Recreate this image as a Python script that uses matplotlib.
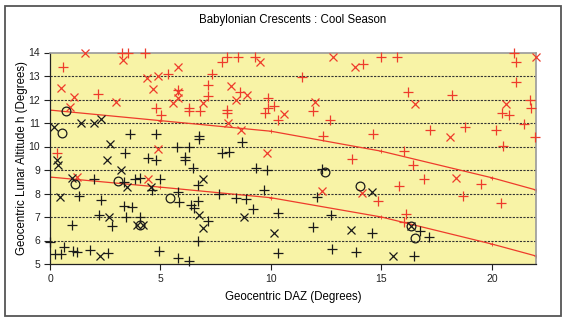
import matplotlib
matplotlib.use("Agg")
import matplotlib.pyplot as plt
from matplotlib.patches import Rectangle

plt.rcParams['font.family'] = ['Liberation Sans', 'DejaVu Sans']

# Visibility curves (DAZ vs limiting altitude)
curve_daz = [0, 5, 10, 15, 20, 22]
curve_upper = [11.55, 11.1, 10.65, 9.8, 8.67, 8.15]
curve_lower = [8.7, 8.27, 7.82, 7.0, 5.85, 5.34]

# Observations: DAZ (deg) and altitude h (deg)
black_plus_daz = [3.62, 4.8, 6.75, 6.75, 8.71, 5.74, 6.3, 3.4, 4.43, 4.79, 6.1, 6.1,
                  7.78, 8.11, 6.49, 9.32, 9.82, 2.0, 3.37, 3.85, 4.08, 4.6, 4.98, 5.81,
                  5.84, 6.69, 6.69, 6.39, 6.54, 7.17, 6.69, 7.63, 8.41, 8.88, 9.21, 9.67,
                  10.3, 10.32, 1.33, 2.31, 3.37, 3.73, 2.22, 2.79, 3.43, 4.08, 1.01, 0.0,
                  0.23, 0.5, 0.65, 1.06, 1.21, 1.81, 2.64, 4.95, 5.81, 6.27, 12.31, 12.08,
                  12.72, 11.89, 14.58, 16.76, 17.14, 12.76, 13.85, 16.46]
black_plus_h = [10.52, 10.52, 10.46, 10.32, 10.2, 10.0, 10.0, 9.71, 9.5, 9.43, 9.55, 9.42,
                9.71, 9.78, 9.07, 9.1, 9.0, 8.62, 8.48, 8.62, 8.65, 8.15, 8.62, 8.05,
                7.63, 8.36, 7.68, 7.51, 7.37, 6.83, 5.98, 7.97, 7.82, 7.77, 7.34, 8.15,
                7.18, 5.45, 7.91, 7.72, 7.47, 7.41, 7.09, 6.63, 7.01, 7.01, 6.66, 5.95,
                5.43, 5.43, 5.74, 5.57, 5.5, 5.6, 5.48, 5.55, 5.24, 5.11, 9.04, 7.86,
                7.09, 6.56, 6.33, 6.4, 6.16, 5.64, 5.5, 5.35]

black_x_daz = [0.2, 1.39, 2.0, 2.31, 2.72, 0.3, 0.38, 2.57, 3.22, 0.98, 3.47, 4.58,
               6.92, 6.75, 6.92, 8.8, 10.15, 0.45, 2.67, 3.93, 4.22, 2.27, 14.58, 13.62,
               16.34, 15.52]
black_x_h = [10.84, 10.99, 10.99, 11.17, 10.1, 9.43, 9.21, 9.43, 9.0, 8.65, 8.29, 8.29,
             8.62, 7.09, 6.52, 7.01, 6.33, 7.86, 6.99, 6.66, 6.66, 5.34, 8.07, 6.45,
             6.62, 5.35]

black_o_daz = [0.71, 0.53, 1.13, 3.1, 5.41, 4.08, 12.43, 14.02, 16.34, 16.54]
black_o_h = [11.51, 10.56, 8.39, 8.53, 7.82, 6.66, 8.93, 8.3, 6.62, 6.12]

red_plus_daz = [0.6, 3.25, 3.52, 4.28, 8.0, 7.8, 8.5, 9.26, 5.33, 7.33, 2.19, 7.13,
                7.13, 8.61, 9.89, 10.12, 9.89, 9.74, 10.3, 4.79, 5.03, 6.3, 6.3, 6.8,
                8.0, 8.0, 5.78, 0.3, 14.17, 14.98, 15.71, 20.99, 21.11, 11.43, 21.11, 16.2,
                18.2, 11.9, 12.69, 21.72, 21.78, 20.46, 20.8, 21.45, 21.95, 18.8, 17.19, 20.21,
                14.62, 12.38, 20.51, 16.01, 13.67, 16.43, 16.91, 19.51, 18.7, 20.42, 15.81, 14.83,
                16.13, 16.01]
red_plus_h = [13.4, 14.0, 14.0, 14.0, 13.8, 13.6, 13.8, 13.8, 13.1, 13.07, 12.22, 12.62,
              12.15, 12.33, 12.05, 11.74, 11.65, 11.44, 11.13, 11.65, 11.34, 11.65, 11.5, 11.5,
              11.55, 11.42, 12.42, 9.74, 13.5, 13.8, 13.8, 14.0, 13.6, 12.94, 12.73, 12.33,
              12.19, 11.51, 11.13, 11.98, 11.62, 11.41, 11.34, 10.95, 10.42, 10.82, 10.7, 10.7,
              10.52, 10.45, 10.03, 9.81, 9.46, 9.21, 8.62, 8.39, 7.91, 7.61, 8.32, 7.68,
              7.11, 6.8]

red_x_daz = [1.59, 3.32, 5.78, 9.52, 4.41, 4.91, 0.5, 1.1, 0.9, 2.98, 4.68, 5.78,
             5.78, 5.59, 8.19, 8.41, 8.91, 6.92, 10.57, 8.05, 8.65, 9.82, 4.91, 1.21,
             4.43, 12.81, 13.82, 22.0, 12.01, 16.51, 20.62, 18.12, 18.4, 12.31, 14.12]
red_x_h = [14.0, 13.68, 13.4, 13.6, 12.9, 13.0, 12.5, 12.1, 11.7, 11.9, 12.43, 12.3,
           12.05, 11.84, 12.59, 12.0, 12.2, 11.84, 11.4, 10.99, 10.7, 9.71, 9.88, 8.72,
           8.62, 13.8, 13.4, 13.8, 11.9, 11.8, 11.8, 10.42, 8.67, 8.11, 8.01]

RED = '#EE3B2B'
BLACK = '#1a1a1a'

fig = plt.figure(figsize=(5.67, 3.21), dpi=100)
ax = fig.add_axes([50 / 567, 1 - 264 / 321, 486 / 567, 211.5 / 321])
ax.set_facecolor('#F8F3A6')

# frame round the whole chart
fig.patches.append(Rectangle((5 / 567, 5 / 321), 556 / 567, 310 / 321,
                             transform=fig.transFigure, fill=False,
                             edgecolor='#555555', linewidth=1.3))

for yv in range(6, 14):
    ax.axhline(yv, color='#333333', linestyle=(0, (2, 1.2)), linewidth=0.8, zorder=1)

ax.plot(curve_daz, curve_upper, color=RED, linewidth=0.9, marker='+', markersize=3,
        markeredgewidth=0.6, zorder=2)
ax.plot(curve_daz, curve_lower, color=RED, linewidth=0.9, marker='+', markersize=3,
        markeredgewidth=0.6, zorder=2)

common = dict(linestyle='none', clip_on=False, zorder=3)
ax.plot(red_plus_daz, red_plus_h, marker='+', markersize=7, markeredgewidth=0.9,
        color=RED, **common)
ax.plot(red_x_daz, red_x_h, marker='x', markersize=6, markeredgewidth=0.9,
        color=RED, **common)
ax.plot(black_plus_daz, black_plus_h, marker='+', markersize=7, markeredgewidth=0.9,
        color=BLACK, **common)
ax.plot(black_x_daz, black_x_h, marker='x', markersize=6, markeredgewidth=0.9,
        color=BLACK, **common)
ax.plot(black_o_daz, black_o_h, marker='o', markersize=6.3, markeredgewidth=0.9,
        markerfacecolor='none', markeredgecolor=BLACK, **common)

ax.set_xlim(0, 22)
ax.set_ylim(5, 14)
ax.set_xticks([0, 5, 10, 15, 20])
ax.set_yticks(range(5, 15))
ax.tick_params(axis='both', direction='out', length=4, width=0.8, labelsize=7.5,
               colors='#222222', pad=3)

for side in ('top', 'right'):
    ax.spines[side].set_color('#9a9a9a')
    ax.spines[side].set_linewidth(1.2)
for side in ('left', 'bottom'):
    ax.spines[side].set_color('#222222')
    ax.spines[side].set_linewidth(0.9)

fig.text(293 / 567, 1 - 20 / 321, 'Babylonian Crescents : Cool Season',
         ha='center', va='center', fontsize=8.3)
ax.set_xlabel('Geocentric DAZ (Degrees)', fontsize=8.3, labelpad=5)
ax.set_ylabel('Geocentric Lunar Altitude h (Degrees)', fontsize=8.3)
ax.yaxis.set_label_coords(-0.045, 0.5)

fig.savefig('out.png', dpi=100)
